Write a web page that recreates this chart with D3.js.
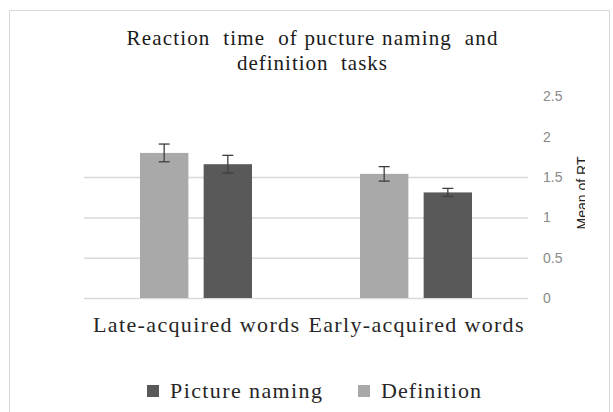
<!DOCTYPE html>
<html>
<head>
<meta charset="utf-8">
<script src="https://cdn.jsdelivr.net/npm/d3@7"></script>
<style>
	body { margin: 0; background: #fff; }
	svg { display: block; }
	.serif { font-family: "Liberation Serif", "DejaVu Serif", "Times New Roman", serif; }
	.sans { font-family: "Liberation Sans", Arial, sans-serif; }
</style>
</head>
<body>
<svg id="chart" width="613" height="412"></svg>
<script>
// data
const categories = ["Late-acquired words", "Early-acquired words"];
const seriesNames = ["Definition", "Picture naming"];   // order of bars inside a group
const legendOrder = ["Picture naming", "Definition"];
const definitionRT = [1.80, 1.54];
const definitionErr = [0.11, 0.09];
const namingRT = [1.66, 1.31];
const namingErr = [0.11, 0.05];
const yTicks = [0, 0.5, 1, 1.5, 2, 2.5];
const gridTicks = [0, 0.5, 1, 1.5];   // only these lines show in the original
const titleLines = ["Reaction  time  of pucture naming  and", "definition  tasks"];

const colors = { "Picture naming": "#595959", "Definition": "#a9a9a9" };

const svg = d3.select("#chart");

// outer chart frame
svg.append("rect")
	.attr("x", 9.5).attr("y", 10.5)
	.attr("width", 600).attr("height", 420)
	.attr("fill", "#fff")
	.attr("stroke", "#d9d9d9");

const plot = { left: 86, right: 526, top: 96.5, bottom: 298 };

const x = d3.scaleBand()
	.domain(categories)
	.range([plot.left, plot.right]);

const xInner = d3.scaleBand()
	.domain(seriesNames)
	.range([x.bandwidth() / 2 - 56, x.bandwidth() / 2 + 56])
	.paddingInner(0.24);

const y = d3.scaleLinear()
	.domain([0, 2.5])
	.range([plot.bottom, plot.top]);

// gridlines
svg.append("g")
	.selectAll("line")
	.data(gridTicks)
	.join("line")
	.attr("x1", plot.left - 2).attr("x2", plot.right + 2)
	.attr("y1", d => y(d) + 0.5).attr("y2", d => y(d) + 0.5)
	.attr("stroke", "#d9d9d9")
	.attr("stroke-width", 1.5);

// right side value axis
const yAxis = d3.axisRight(y).tickValues(yTicks).tickSize(0).tickPadding(0).tickFormat(d3.format("~g"));
const ya = svg.append("g")
	.attr("transform", `translate(${plot.right + 17},0)`)
	.call(yAxis);
ya.select(".domain").remove();
ya.attr("font-family", null).attr("font-size", null);
ya.selectAll("text")
	.attr("class", "sans")
	.attr("fill", "#8a8a8a")
	.style("font-size", "14px");

// bars
const rows = [];
categories.forEach((c, i) => {
	rows.push({ cat: c, series: "Definition", value: definitionRT[i], err: definitionErr[i] });
	rows.push({ cat: c, series: "Picture naming", value: namingRT[i], err: namingErr[i] });
});

svg.append("g")
	.selectAll("rect")
	.data(rows)
	.join("rect")
	.attr("x", d => x(d.cat) + xInner(d.series))
	.attr("y", d => y(d.value))
	.attr("width", xInner.bandwidth())
	.attr("height", d => y(0) - y(d.value))
	.attr("fill", d => colors[d.series]);

// error bars
const errG = svg.append("g").attr("stroke", "#3f3f3f").attr("stroke-width", 1.3);
rows.forEach(d => {
	const cx = x(d.cat) + xInner(d.series) + xInner.bandwidth() / 2;
	const top = y(d.value + d.err), bot = y(d.value - d.err);
	errG.append("line").attr("x1", cx).attr("x2", cx).attr("y1", top).attr("y2", bot);
	errG.append("line").attr("x1", cx - 5.5).attr("x2", cx + 5.5).attr("y1", top).attr("y2", top);
	errG.append("line").attr("x1", cx - 5.5).attr("x2", cx + 5.5).attr("y1", bot).attr("y2", bot);
});

// category labels (the original is wider, serif face stretched a bit)
const catWidths = [206, 215];
svg.append("g")
	.selectAll("text")
	.data(categories)
	.join("text")
	.attr("class", "serif")
	.attr("x", d => x(d) + x.bandwidth() / 2)
	.attr("y", 332)
	.attr("text-anchor", "middle")
	.attr("textLength", (d, i) => catWidths[i])
	.attr("fill", "#262626")
	.style("font-size", "22px")
	.text(d => d);

// title
const titleWidths = [371, 150];
svg.append("text")
	.attr("class", "serif")
	.attr("text-anchor", "middle")
	.attr("fill", "#1a1a1a")
	.style("font-size", "21px")
	.style("white-space", "pre")
	.selectAll("tspan")
	.data(titleLines)
	.join("tspan")
	.attr("x", 312)
	.attr("y", (d, i) => 45 + i * 25)
	.attr("textLength", (d, i) => titleWidths[i])
	.text(d => d);

// axis title, cut off by the frame like in the original
svg.append("clipPath").attr("id", "clipTitle")
	.append("rect").attr("x", 560).attr("y", 80).attr("width", 25).attr("height", 200);
svg.append("g")
	.attr("clip-path", "url(#clipTitle)")
	.append("text")
	.attr("class", "sans")
	.attr("transform", "translate(587,193) rotate(-90)")
	.attr("text-anchor", "middle")
	.attr("fill", "#262626")
	.style("font-size", "14px")
	.text("Mean of RT");

// legend
const legendX = [147, 358];
const legendWidths = [152, 100];
const lg = svg.append("g");
legendOrder.forEach((name, i) => {
	lg.append("rect")
		.attr("x", legendX[i]).attr("y", 385)
		.attr("width", 12).attr("height", 12)
		.attr("fill", colors[name]);
	lg.append("text")
		.attr("class", "serif")
		.attr("x", legendX[i] + 23).attr("y", 398)
		.attr("textLength", legendWidths[i])
		.attr("fill", "#262626")
		.style("font-size", "22px")
		.text(name);
});
</script>
</body>
</html>
